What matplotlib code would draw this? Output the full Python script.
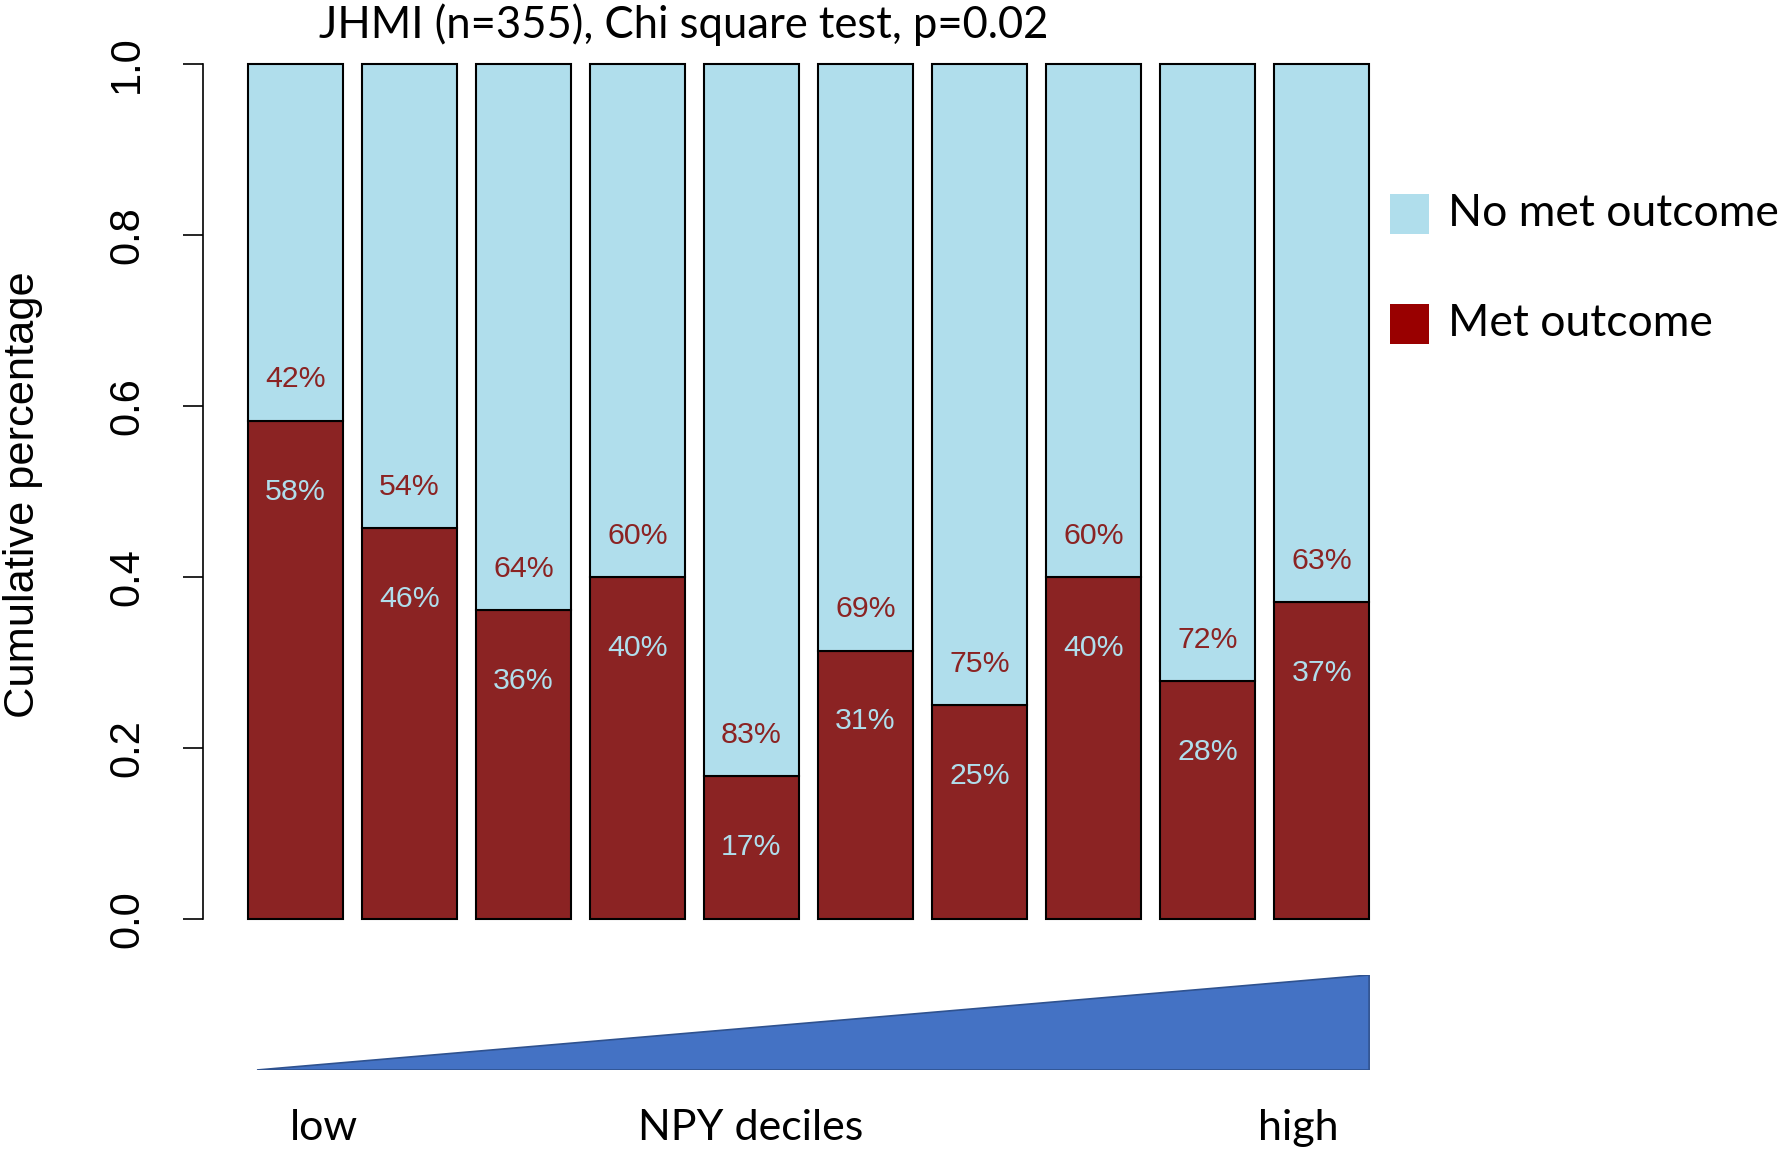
import numpy as np
import matplotlib.pyplot as plt
from matplotlib.patches import Rectangle

# fraction of patients who met the outcome, per NPY decile (low -> high)
deciles = np.arange(1, 11)
met = [0.583, 0.457, 0.361, 0.400, 0.167, 0.314, 0.250, 0.400, 0.278, 0.371]
no_met = [1 - m for m in met]
yticks = [0.0, 0.2, 0.4, 0.6, 0.8, 1.0]
legend_labels = ['No met outcome', 'Met outcome']

red = '#8B2323'
blue = '#B0DEEC'
legend_red = '#990000'
tri_blue = '#4472C4'

W, H = 1784, 1153
fig = plt.figure(figsize=(W / 100, H / 100), dpi=100)

# main axes placed in pixels
left, right, top, bottom = 203, 1414, 64, 919
ax = fig.add_axes([left / W, 1 - bottom / H, (right - left) / W, (bottom - top) / H])

x = np.arange(len(deciles))
width = 0.833
ax.bar(x, met, width=width, color=red, edgecolor='black', linewidth=1.5, clip_on=False)
ax.bar(x, no_met, width=width, bottom=met, color=blue, edgecolor='black', linewidth=1.5, clip_on=False)

for xi, m, n in zip(x, met, no_met):
    ax.text(xi, m - 0.083, '{:.0f}%'.format(m * 100), ha='center', va='center',
            color=blue, fontsize=21.8, family='Liberation Sans')
    ax.text(xi, m + 0.048, '{:.0f}%'.format(n * 100), ha='center', va='center',
            color=red, fontsize=21.8, family='Liberation Sans')

ax.set_xlim(-0.81, 9.81)
ax.set_ylim(0, 1)
for s in ['top', 'right', 'bottom']:
    ax.spines[s].set_visible(False)
ax.spines['left'].set_bounds(0, 1)
ax.spines['left'].set_linewidth(1.2)
ax.set_xticks([])
ax.set_yticks(yticks)
ax.set_yticklabels(['{:.1f}'.format(t) for t in yticks])
ax.tick_params(axis='y', length=14.5, width=1.2, pad=40, labelsize=30, labelrotation=90)
for lab in ax.get_yticklabels():
    lab.set_family('Liberation Sans')
    lab.set_ha('center')
    lab.set_va('center')

fig.text(23 / W, 1 - 495 / H, 'Cumulative percentage', rotation=90, ha='center', va='center',
         fontsize=31.2, family='Liberation Sans')

fig.text(684 / W, 1 - 25 / H, 'JHMI (n=355), Chi square test, p=0.02', ha='center', va='center',
         fontsize=31.4, family='Lato')

# legend drawn by hand
sq = 39
for i, (lab, col) in enumerate(zip(legend_labels, [blue, legend_red])):
    cy = 214 + i * 110
    fig.add_artist(Rectangle((1390 / W, 1 - (cy + sq / 2) / H), sq / W, sq / H,
                             transform=fig.transFigure, facecolor=col, edgecolor='none'))
    fig.text(1448 / W, 1 - cy / H, lab, ha='left', va='center', fontsize=32, family='Lato')

# increasing NPY wedge
ax2 = fig.add_axes([left / W, 1 - 1070 / H, (right - left) / W, (1070 - 975) / H])
ax2.set_xlim(ax.get_xlim())
ax2.set_ylim(0, 1)
x_lo = x[0] - width / 2 + 0.08
x_hi = x[-1] + width / 2
ax2.fill([x_lo, x_hi, x_hi], [0, 1, 0], facecolor=tri_blue, edgecolor='#2F528F', linewidth=1.2)
ax2.axis('off')

fig.text(324 / W, 1 - 1140 / H, 'low', ha='center', va='baseline', fontsize=31, family='Lato')
fig.text(751 / W, 1 - 1140 / H, 'NPY deciles', ha='center', va='baseline', fontsize=31, family='Lato')
fig.text(1298 / W, 1 - 1140 / H, 'high', ha='center', va='baseline', fontsize=31, family='Lato')

fig.savefig('out.png', dpi=100)
